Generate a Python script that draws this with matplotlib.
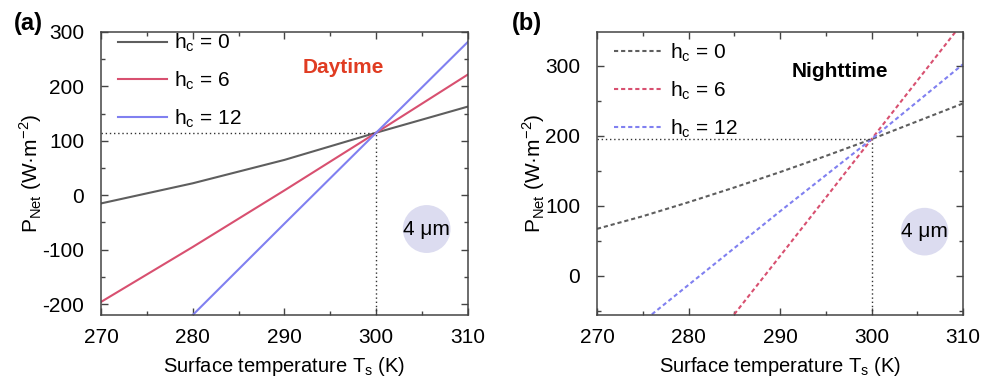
import numpy as np
import matplotlib.pyplot as plt
from matplotlib.patches import Ellipse
from matplotlib.ticker import MultipleLocator

plt.rcParams['font.family'] = ['Liberation Sans', 'DejaVu Sans']
plt.rcParams['mathtext.fontset'] = 'custom'
plt.rcParams['mathtext.rm'] = 'Liberation Sans'
plt.rcParams['axes.unicode_minus'] = False

# values
T = [270, 280, 290, 300, 310]
day_h0 = [-15, 22, 65, 115, 163]
day_h6 = [-196, -95, 9, 115, 222]
T_day12 = [280, 290, 300, 310]
day_h12 = [-220, -52, 115, 282]

T_night0 = [270, 275, 280, 285, 290, 295, 300, 310]
night_h0 = [67, 85, 105, 126, 148, 171, 195, 246]
T_night6 = [285, 290, 300, 310]
night_h6 = [-55, 28, 195, 362]
T_night12 = [276, 280, 290, 300, 310]
night_h12 = [-55, -13, 92, 195, 302]

labels = ['h$_\\mathregular{c}$ = 0', 'h$_\\mathregular{c}$ = 6', 'h$_\\mathregular{c}$ = 12']
colors = ['#5e5e5e', '#d85070', '#8080f0']
T_cross = 300
P_day_cross = 115
P_night_cross = 195

fig = plt.figure(figsize=(9.84, 3.83), dpi=100)
ax1 = fig.add_axes([0.1026, 0.1775, 0.373, 0.739])
ax2 = fig.add_axes([0.6067, 0.1775, 0.372, 0.739])


def style(ax, ylim):
    ax.set_xlim(270, 310)
    ax.set_ylim(*ylim)
    ax.xaxis.set_major_locator(MultipleLocator(10))
    ax.xaxis.set_minor_locator(MultipleLocator(5))
    ax.yaxis.set_major_locator(MultipleLocator(100))
    ax.yaxis.set_minor_locator(MultipleLocator(50))
    ax.tick_params(which='both', direction='in', top=True, right=True,
                   color='#444444', width=1)
    ax.tick_params(which='major', length=5, labelsize=15)
    ax.tick_params(axis='y', which='major', pad=12)
    ax.tick_params(axis='x', which='major', pad=9)
    ax.tick_params(which='minor', length=3)
    for s in ax.spines.values():
        s.set_color('#444444')
        s.set_linewidth(1.1)
    ax.set_xlabel('Surface temperature T$_\\mathregular{s}$ (K)', fontsize=14.5, labelpad=6)
    ax.set_ylabel('P$_\\mathregular{Net}$ (W·m$^{-2}$)', fontsize=15, labelpad=-1)


dot = (0, (1, 2))

# (a) daytime
ax1.plot(T, day_h0, color=colors[0], lw=1.5, label=labels[0])
ax1.plot(T, day_h6, color=colors[1], lw=1.5, label=labels[1])
ax1.plot(T_day12, day_h12, color=colors[2], lw=1.5, label=labels[2])
ax1.plot([270, T_cross], [P_day_cross, P_day_cross], linestyle=dot, color='#333333', lw=1)
ax1.plot([T_cross, T_cross], [-220, P_day_cross], linestyle=dot, color='#333333', lw=1)
style(ax1, (-220, 300))
ax1.text(292.0, 235, 'Daytime', color='#e03c22', fontsize=15, fontweight='bold', va='center')
ax1.add_patch(Ellipse((305.5, -62), 5.2, 88, color='#dcdcf0', lw=0, zorder=0))
ax1.text(305.5, -62, '4 μm', ha='center', va='center', fontsize=15)
ax1.legend(loc='upper left', bbox_to_anchor=(0.024, 1.03), frameon=False, fontsize=15,
           handlelength=2.35, handletextpad=0.35, labelspacing=0.72, borderaxespad=0)
fig.text(0.014, 0.922, '(a)', fontsize=17, fontweight='bold')

# (b) nighttime
ax2.plot(T_night0, night_h0, color=colors[0], lw=1.5, dashes=(2, 1.4), label=labels[0])
ax2.plot(T_night6, night_h6, color=colors[1], lw=1.5, dashes=(2, 1.4), label=labels[1])
ax2.plot(T_night12, night_h12, color=colors[2], lw=1.5, dashes=(2, 1.4), label=labels[2])
ax2.plot([270, T_cross], [P_night_cross, P_night_cross], linestyle=dot, color='#333333', lw=1)
ax2.plot([T_cross, T_cross], [-56, P_night_cross], linestyle=dot, color='#333333', lw=1)
style(ax2, (-56, 348))
ax2.text(291.3, 292, 'Nighttime', color='black', fontsize=15, fontweight='bold', va='center')
ax2.add_patch(Ellipse((305.8, 63), 5.2, 68, color='#dcdcf0', lw=0, zorder=0))
ax2.text(305.8, 63, '4 μm', ha='center', va='center', fontsize=15)
ax2.legend(loc='upper left', bbox_to_anchor=(0.024, 0.995), frameon=False, fontsize=15,
           handlelength=2.35, handletextpad=0.35, labelspacing=0.72, borderaxespad=0)
fig.text(0.52, 0.922, '(b)', fontsize=17, fontweight='bold')

plt.savefig('out.png', dpi=100)
